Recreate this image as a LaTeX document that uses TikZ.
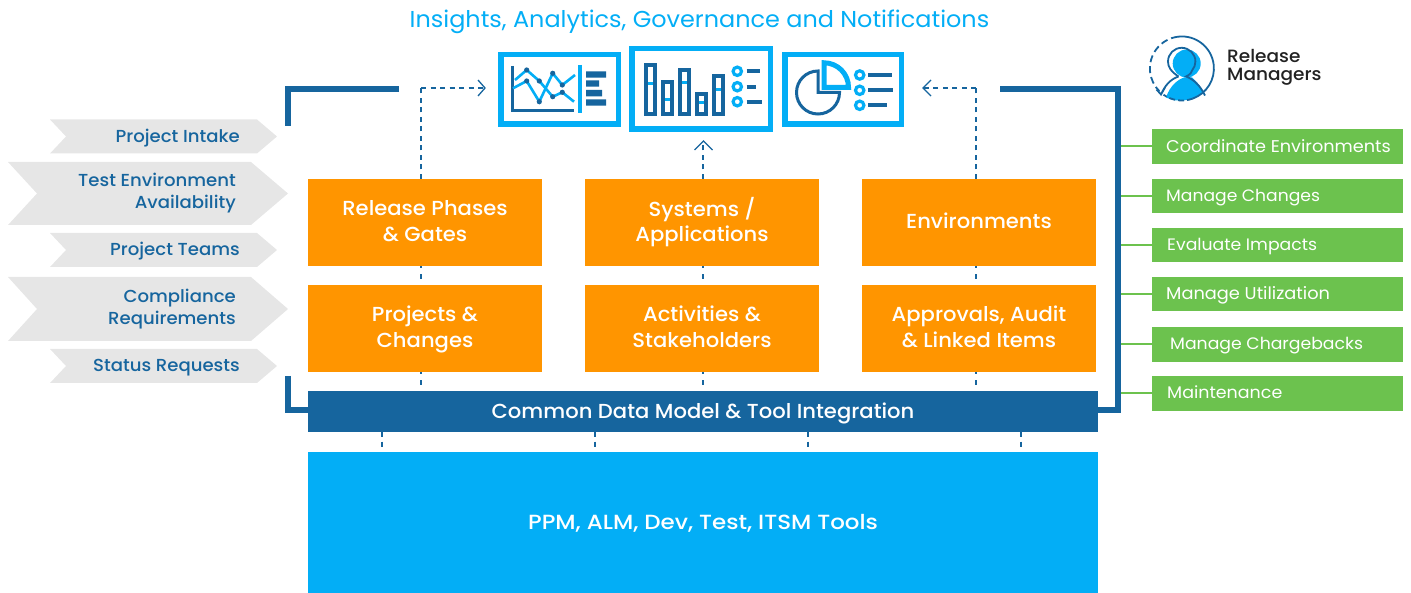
\documentclass[tikz,border=0pt]{standalone}
\usepackage{fontspec}
\setmainfont[FakeStretch=1.04]{Poppins}
\newfontfamily\medfont[FakeStretch=1.04]{Poppins Medium}
\newfontfamily\capfont[FakeStretch=1.12]{Poppins Medium}
\usetikzlibrary{arrows.meta}
\definecolor{dkblue}{HTML}{16659E}
\definecolor{cyanb}{HTML}{03AEF6}
\definecolor{orangeb}{HTML}{FF9500}
\definecolor{greenb}{HTML}{6CC24E}
\definecolor{greyb}{HTML}{E6E6E6}
\definecolor{inkk}{HTML}{222222}
\tikzset{
 x=1pt,y=-1pt,
 struts/.style 2 args={execute at begin node={\gdef\tsr{\rule{0pt}{#1}}},execute at end node={\rule[-#2]{0pt}{#2}}},
 box/.style={inner sep=0pt,outer sep=0pt,anchor=north west,align=center,font=\fontsize{20.3}{25.5}\medfont\selectfont,text=white,struts={19.35pt}{6.15pt}},
 orangebox/.style={box,fill=orangeb,minimum width=234pt,minimum height=87pt,struts={19pt}{6.5pt}},
 greenbox/.style={inner sep=0pt,outer sep=0pt,anchor=north west,fill=greenb,minimum width=251pt},
 greentext/.style={anchor=west,inner sep=0pt,text=white,struts={16pt}{4pt}},
 chev/.style={fill=greyb},
 chevtext/.style={anchor=east,align=right,text=dkblue,font=\fontsize{17.4}{22}\medfont\selectfont,inner sep=0pt,struts={17pt}{5pt}},
 dash link/.style={draw=dkblue,line width=1.3pt,dash pattern=on 5pt off 4.5pt},
 tail link/.style={draw=dkblue,line width=1.3pt,dash pattern=on 5pt off 6pt,dash phase=2.5pt},
 barb/.style={draw=dkblue,line width=1.3pt},
 frameline/.style={draw=dkblue,line width=6pt,line cap=butt,line join=miter},
 gline/.style={draw=greenb,line width=2pt},
 iconframe/.style={draw=cyanb,line width=5.5pt,fill=white,inner sep=0pt,outer sep=0pt,anchor=north west},
 dk/.style={draw=dkblue,line width=3pt},
 cy/.style={draw=cyanb,line width=3pt},
 ring/.style={draw=cyanb,line width=3.2pt,fill=white},
 persona/.style={draw=dkblue,line width=1.8pt},
}
\begin{document}
\begin{tikzpicture}
\useasboundingbox (0,0) rectangle (1411,593);
% title
\node[text=cyanb,font=\fontsize{23}{26}\selectfont,inner sep=0pt,struts={21pt}{5pt}] (title) at (699.5,20) {\tsr Insights, Analytics, Governance and Notifications};
% frame
\draw[frameline] (399,89) -- (287.5,89) -- (287.5,126);
\draw[frameline] (287.5,376) -- (287.5,410.5) -- (308,410.5);
\draw[frameline] (1000,89) -- (1118,89) -- (1118,410.5) -- (1098,410.5);
% boxes
\node[orangebox] (rp) at (308,179) {\tsr Release Phases\\\& Gates};
\node[orangebox] (sa) at (585,179) {\tsr Systems /\\Applications};
\node[orangebox] (en) at (862,179) {\tsr Environments};
\node[orangebox] (pc) at (308,285) {\tsr Projects \&\\Changes};
\node[orangebox] (as) at (585,285) {\tsr Activities \&\\Stakeholders};
\node[orangebox] (al) at (862,285) {\tsr Approvals, Audit\\\& Linked Items};
\node[box,fill=dkblue,minimum width=790pt,minimum height=41pt] (cd) at (308,391) {\tsr Common Data Model \& Tool Integration};
\node[box,fill=cyanb,minimum width=790pt,minimum height=141pt,font=\fontsize{20.5}{25.5}\capfont\selectfont,struts={20.4pt}{5.1pt}] (pp) at (308,452) {\tsr PPM, ALM, Dev, Test, ITSM Tools};
% icon frames
\node[iconframe,minimum width=117.5pt,minimum height=69.5pt] (ia) at (500.75,54.75) {};
\node[iconframe,minimum width=138.5pt,minimum height=80.5pt] (ib) at (631.75,48.75) {};
\node[iconframe,minimum width=116.5pt,minimum height=69.5pt] (ic) at (784.75,54.75) {};
% dashed links
\coordinate (l1) at (421,88); \coordinate (l2) at (484,88);
\coordinate (r1) at (976,88); \coordinate (r2) at (923,88);
\coordinate (rpT) at (421,179); \coordinate (enT) at (976,179);
\draw[dash link] (rpT) -- (l1);
\draw[dash link] (l1) -- (l2);
\draw[barb] (478,80) -- (485,88) -- (478,96);
\draw[dash link] (enT) -- (r1);
\draw[dash link] (r1) -- (r2);
\draw[barb] (931,80) -- (923,88) -- (931,96);
\coordinate (saT) at (703,179); \coordinate (ibB) at (703,141);
\draw[dash link] (saT) -- (ibB);
\draw[barb] (694.5,150) -- (703.5,141) -- (712.5,150);
\foreach \x in {421,703,976}{
 \draw[tail link] (\x,266) -- (\x,280);
 \draw[tail link] (\x,372) -- (\x,386);
}
\foreach \x in {382,595,808,1021}{
 \draw[dash link] (\x,432) -- (\x,447);
}
% chevrons
\fill[chev] (50,119.5) -- (257,119.5) -- (277,136.5) -- (257,153.5) -- (50,153.5) -- (66,136.5) -- cycle;
\fill[chev] (8,162) -- (251,162) -- (288,193.5) -- (251,225) -- (8,225) -- (37,193.5) -- cycle;
\fill[chev] (50,233) -- (257,233) -- (277,250) -- (257,267) -- (50,267) -- (66,250) -- cycle;
\fill[chev] (8,277) -- (251,277) -- (288,309) -- (251,341) -- (8,341) -- (37,309) -- cycle;
\fill[chev] (50,349) -- (257,349) -- (277,366) -- (257,383) -- (50,383) -- (66,366) -- cycle;
\node[chevtext] (t1) at (240,137) {\tsr Project Intake};
\node[chevtext] (t2) at (236,192) {\tsr Test Environment\\Availability};
\node[chevtext] (t3) at (240,250) {\tsr Project Teams};
\node[chevtext] (t4) at (236,308) {\tsr Compliance\\Requirements};
\node[chevtext] (t5) at (240,366) {\tsr Status Requests};
% green
\foreach \y/\h/\n/\t/\tx/\ty/\fs in {129/35/g1/Coordinate Environments/1166/147/17,179/34/g2/Manage Changes/1166/196/16.5,228/34/g3/Evaluate Impacts/1167/244.5/16.6,277/34/g4/Manage Utilization/1166/294/17.1,327/35/g5/Manage Chargebacks/1170/344/16.6,376/35/g6/Maintenance/1167/393/16.8}{
 \node[greenbox,minimum height=\h pt] (\n) at (1152,\y) {};
 \node[greentext,font=\fontsize{\fs}{20}\selectfont] (\n t) at (\tx,\ty) {\tsr\t};
 \draw[gline] (1121,\y+\h/2) -- (\n.west);
}
% icon 1
\draw[dk] (512,66) -- (512,111) -- (574,111);
\draw[cy,line width=3.5pt] (580,65) -- (580,113);
\fill[dkblue] (586,71.3) rectangle (606,77.7) (586,80.3) rectangle (599,86.7) (586,90) rectangle (602,96.3) (586,99.3) rectangle (606,105.7);
\draw[cy,line width=2.6pt] (513,88.3) -- (526.7,81) -- (539.3,101.7) -- (552.7,73.3) -- (562.3,85) -- (575,75);
\draw[cy,line width=2.6pt] (515,80) -- (526.7,70) -- (539.3,81) -- (552.7,96.7) -- (562.3,92.3) -- (574,101.7);
\foreach \p in {(526.7,81),(539.3,101.7),(552.7,73.3),(562.3,85),(526.7,70),(539.3,81),(552.7,96.7),(562.3,92.3)}{\fill[dkblue] \p circle (2.6);}
% icon 2
\foreach \a/\b/\c in {644/63/83.3,661/80/99.7,678/68/82.7,695/92/102.7,712/74/89.7}{
 \draw[dkblue,line width=4.2pt] (\a+2,\b+2) rectangle (\a+11,114);
 \draw[cyanb,line width=3pt] (\a+4,\c) -- (\a+9,\c);
}
\foreach \y/\e in {71.3/760,86.7/756,101.7/762}{
 \draw[ring] (737.3,\y) circle (4.2);
 \draw[dkblue,line width=4pt] (746.7,\y) -- (\e,\y);
}
% icon 3 (y axis points down, so the angles run the other way)
\draw[dkblue,line width=3pt] (818,71) arc (-90:-360:21.5) -- (818,92.5) -- cycle;
\draw[cyanb,line width=5pt,fill=white] (824,87.3) -- (824,62.8) arc (-90:0:24.5) -- cycle;
\foreach \y/\e in {75/892,90.3/893,105.3/887}{
 \draw[ring] (859.7,\y) circle (4.2);
 \draw[dkblue,line width=4pt] (868.3,\y) -- (\e,\y);
}
% person
\begin{scope}[shift={(0,1.5)}]
\fill[cyanb] (1186.7,62) circle (14);
\fill[cyanb] (1166,96) .. controls (1170,84) and (1178,78) .. (1184,76) -- (1192,76) .. controls (1197,80) and (1200,85) .. (1203,90) .. controls (1195,99) and (1178,102) .. (1166,96) -- cycle;
\draw[persona] (1178,35.2) arc (-97:70:32);
\draw[persona,dash pattern=on 7pt off 4pt] (1178,35.2) arc (-97:-225:32);
\draw[persona,dash pattern=on 6pt off 3pt] (1192.8,97.1) arc (70:125:32);
\draw[persona] (1178.5,75) .. controls (1171,70) and (1168,66) .. (1168,60) arc (-180:40:13.7) .. controls (1192,71) and (1190,73) .. (1186,75) .. controls (1194,78) and (1200,84) .. (1205,94);
\draw[persona] (1178.5,75) .. controls (1170,78) and (1165,84) .. (1161,93) (1156.5,88) -- (1161,93) -- (1165,86);
\end{scope}
\node[anchor=west,inner sep=0pt,align=left,text=inkk,font=\fontsize{17.8}{18}\medfont\selectfont,struts={15.2pt}{2.8pt}] (rm) at (1227,66) {\tsr Release\\Managers};
\end{tikzpicture}
\end{document}
